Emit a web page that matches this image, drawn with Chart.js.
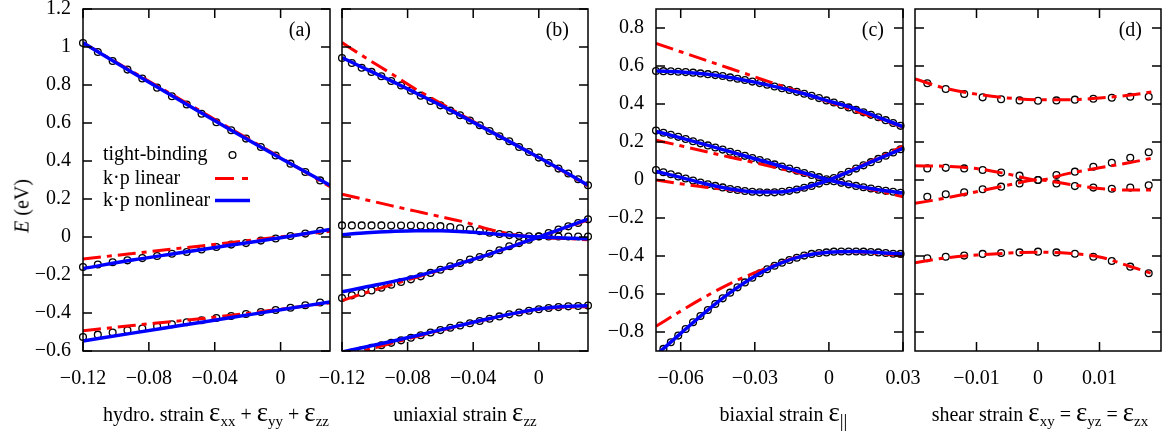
<!DOCTYPE html>
<html>
<head>
<meta charset="utf-8">
<script src="https://cdn.jsdelivr.net/npm/chart.js@4.4.0/dist/chart.umd.min.js"></script>
<style>
    body { margin: 0; background: #fff; }
    #wrap { position: relative; width: 1174px; height: 439px; font-family: "Liberation Serif", "Times New Roman", serif; color: #000; }
    #wrap canvas { position: absolute; left: 0; top: 0; }
    .xtitle { position: absolute; top: 401px; font-size: 20px; line-height: 26px; text-align: center; white-space: nowrap; }
    .eps { font-size: 27px; line-height: 0; }
    .xtitle sub { font-size: 15px; line-height: 0; vertical-align: -5px; }
    .xtitle sub.par { font-size: 19px; vertical-align: -6px; }
    #ytitle { position: absolute; left: 22px; top: 206px; transform: translate(-50%, -50%) rotate(-90deg); font-size: 20px; white-space: nowrap; }
</style>
</head>
<body>
<div id="wrap">
    <canvas id="chartA" width="1174" height="439"></canvas>
    <canvas id="chartB" width="1174" height="439"></canvas>
    <canvas id="chartC" width="1174" height="439"></canvas>
    <canvas id="chartD" width="1174" height="439"></canvas>
    <div id="ytitle"><i>E</i> (eV)</div>
    <div class="xtitle" style="left:86px;width:260px">hydro. strain <span class="eps">ε</span><sub>xx</sub> + <span class="eps">ε</span><sub>yy</sub> + <span class="eps">ε</span><sub>zz</sub></div>
    <div class="xtitle" style="left:342px;width:246px">uniaxial strain <span class="eps">ε</span><sub>zz</sub></div>
    <div class="xtitle" style="left:660px;width:247px">biaxial strain <span class="eps">ε</span><sub class="par">||</sub></div>
    <div class="xtitle" style="left:915px;width:250px">shear strain <span class="eps">ε</span><sub>xy</sub> = <span class="eps">ε</span><sub>yz</sub> = <span class="eps">ε</span><sub>zx</sub></div>
</div>
<script>
// (a) hidrostática
const hydroX = [-0.12, -0.111, -0.102, -0.093, -0.084, -0.075, -0.066, -0.057, -0.048, -0.039, -0.03, -0.021, -0.012, -0.003, 0.006, 0.015, 0.024];
const hydroTB1 = [1.021, 0.974, 0.926, 0.881, 0.834, 0.786, 0.741, 0.697, 0.649, 0.604, 0.562, 0.518, 0.474, 0.429, 0.386, 0.342, 0.298];
const hydroTB2 = [-0.158, -0.145, -0.133, -0.123, -0.111, -0.100, -0.088, -0.079, -0.066, -0.053, -0.040, -0.032, -0.019, -0.008, 0.005, 0.018, 0.033];
const hydroTB3 = [-0.526, -0.514, -0.503, -0.491, -0.482, -0.470, -0.459, -0.449, -0.438, -0.426, -0.416, -0.405, -0.395, -0.384, -0.372, -0.359, -0.345];
const hydroLineX = [-0.12, -0.09, -0.06, -0.03, 0, 0.03];
const hydroLin1 = [1.022, 0.870, 0.720, 0.568, 0.418, 0.265];
const hydroLin2 = [-0.116, -0.087, -0.058, -0.029, 0.001, 0.030];
const hydroLin3 = [-0.493, -0.466, -0.440, -0.412, -0.380, -0.347];
const hydroNon1 = [1.022, 0.866, 0.713, 0.562, 0.415, 0.272];
const hydroNon2 = [-0.166, -0.121, -0.082, -0.042, -0.004, 0.039];
const hydroNon3 = [-0.547, -0.506, -0.465, -0.424, -0.383, -0.342];

// (b) uniaxial
const uniX = [-0.12, -0.114, -0.108, -0.102, -0.096, -0.09, -0.084, -0.078, -0.072, -0.066, -0.06, -0.054, -0.048, -0.042, -0.036, -0.03, -0.024, -0.018, -0.012, -0.006, 0, 0.006, 0.012, 0.018, 0.024, 0.03];
const uniTB1 = [0.942, 0.916, 0.891, 0.869, 0.846, 0.821, 0.798, 0.770, 0.744, 0.716, 0.693, 0.665, 0.641, 0.613, 0.588, 0.558, 0.530, 0.504, 0.474, 0.447, 0.418, 0.389, 0.360, 0.334, 0.304, 0.272];
const uniTB2 = [0.061, 0.061, 0.061, 0.061, 0.061, 0.060, 0.060, 0.060, 0.059, 0.058, 0.057, 0.053, 0.046, 0.039, 0.031, 0.023, 0.016, 0.010, 0.006, 0.004, 0.003, 0.003, 0.003, 0.003, 0.003, 0.003];
const uniTB3 = [-0.321, -0.307, -0.295, -0.281, -0.267, -0.251, -0.237, -0.223, -0.207, -0.189, -0.172, -0.154, -0.137, -0.119, -0.105, -0.088, -0.070, -0.049, -0.032, -0.014, 0.004, 0.021, 0.039, 0.056, 0.074, 0.093];
const uniTB4 = [-0.622, -0.608, -0.596, -0.583, -0.570, -0.557, -0.544, -0.530, -0.517, -0.503, -0.490, -0.478, -0.466, -0.454, -0.442, -0.430, -0.418, -0.407, -0.397, -0.388, -0.380, -0.374, -0.369, -0.365, -0.363, -0.361];
const uniLineX = [-0.12, -0.105, -0.09, -0.075, -0.06, -0.045, -0.03, -0.015, 0, 0.015, 0.03];
const uniLin1 = [1.023, 0.940, 0.860, 0.778, 0.705, 0.632, 0.560, 0.490, 0.418, 0.345, 0.268];
const uniLin2 = [0.225, 0.195, 0.165, 0.136, 0.107, 0.078, 0.040, 0.012, -0.002, -0.008, -0.014];
const uniLin3 = [-0.335, -0.292, -0.252, -0.213, -0.174, -0.132, -0.090, -0.045, 0.000, 0.045, 0.090];
const uniLin4 = [-0.630, -0.595, -0.560, -0.525, -0.492, -0.460, -0.430, -0.403, -0.381, -0.370, -0.367];
const uniNon1 = [0.945, 0.882, 0.822, 0.758, 0.694, 0.627, 0.558, 0.489, 0.418, 0.347, 0.272];
const uniNon2 = [0.012, 0.022, 0.029, 0.033, 0.033, 0.027, 0.018, 0.008, 0.000, -0.005, -0.009];
const uniNon3 = [-0.289, -0.262, -0.236, -0.207, -0.172, -0.131, -0.090, -0.045, 0.000, 0.047, 0.094];
const uniNon4 = [-0.605, -0.578, -0.550, -0.520, -0.489, -0.459, -0.429, -0.402, -0.379, -0.366, -0.362];

// (c) biaxial
const biaxX = [-0.07, -0.067, -0.064, -0.061, -0.058, -0.055, -0.052, -0.049, -0.046, -0.043, -0.04, -0.037, -0.034, -0.031, -0.028, -0.025, -0.022, -0.019, -0.016, -0.013, -0.01, -0.007, -0.004, -0.001, 0.002, 0.005, 0.008, 0.011, 0.014, 0.017, 0.02, 0.023, 0.026, 0.029];
const biaxTB1 = [0.574, 0.573, 0.572, 0.570, 0.568, 0.565, 0.561, 0.557, 0.552, 0.547, 0.540, 0.533, 0.526, 0.518, 0.510, 0.501, 0.492, 0.483, 0.474, 0.464, 0.454, 0.443, 0.431, 0.419, 0.408, 0.395, 0.382, 0.369, 0.356, 0.343, 0.330, 0.315, 0.300, 0.285];
const biaxTB2 = [0.260, 0.249, 0.238, 0.227, 0.216, 0.204, 0.193, 0.182, 0.171, 0.160, 0.149, 0.138, 0.127, 0.116, 0.105, 0.093, 0.082, 0.071, 0.060, 0.049, 0.037, 0.026, 0.015, 0.004, -0.006, -0.015, -0.023, -0.031, -0.038, -0.045, -0.051, -0.057, -0.062, -0.067];
const biaxTB3 = [0.053, 0.041, 0.030, 0.019, 0.008, -0.003, -0.013, -0.022, -0.031, -0.039, -0.047, -0.053, -0.058, -0.062, -0.065, -0.066, -0.065, -0.062, -0.057, -0.050, -0.041, -0.031, -0.019, -0.006, 0.010, 0.026, 0.043, 0.060, 0.077, 0.094, 0.111, 0.128, 0.145, 0.162];
const biaxTB4 = [-0.922, -0.889, -0.854, -0.819, -0.784, -0.749, -0.716, -0.684, -0.653, -0.623, -0.593, -0.565, -0.539, -0.514, -0.491, -0.470, -0.451, -0.435, -0.421, -0.409, -0.398, -0.389, -0.384, -0.381, -0.377, -0.376, -0.376, -0.376, -0.377, -0.379, -0.381, -0.384, -0.388, -0.389];
const biaxLineX = [-0.07, -0.06, -0.05, -0.04, -0.03, -0.02, -0.01, 0, 0.01, 0.02, 0.03];
const biaxLin1 = [0.719, 0.675, 0.631, 0.587, 0.543, 0.499, 0.455, 0.411, 0.367, 0.323, 0.279];
const biaxLin2 = [0.210, 0.180, 0.150, 0.120, 0.091, 0.061, 0.031, 0.001, -0.029, -0.058, -0.088];
const biaxLin3 = [0.000, -0.020, -0.038, -0.052, -0.062, -0.062, -0.042, 0.000, 0.058, 0.116, 0.178];
const biaxLin4 = [-0.770, -0.690, -0.614, -0.545, -0.488, -0.438, -0.396, -0.381, -0.378, -0.386, -0.400];
const biaxNon1 = [0.574, 0.569, 0.558, 0.540, 0.515, 0.486, 0.454, 0.415, 0.378, 0.330, 0.281];
const biaxNon2 = [0.256, 0.222, 0.186, 0.149, 0.112, 0.075, 0.037, 0.000, -0.029, -0.051, -0.069];
const biaxNon3 = [0.045, 0.014, -0.020, -0.047, -0.063, -0.063, -0.041, 0.000, 0.054, 0.111, 0.167];
const biaxNon4 = [-0.922, -0.807, -0.695, -0.593, -0.506, -0.440, -0.398, -0.380, -0.376, -0.381, -0.390];

// (d) cisalhamento
const shearX = [-0.018, -0.015, -0.012, -0.009, -0.006, -0.003, 0, 0.003, 0.006, 0.009, 0.012, 0.015, 0.018];
const shearTB1 = [0.509, 0.479, 0.453, 0.435, 0.425, 0.419, 0.417, 0.419, 0.423, 0.428, 0.433, 0.438, 0.438];
const shearTB2 = [0.061, 0.064, 0.061, 0.053, 0.039, 0.023, 0.000, 0.026, 0.044, 0.070, 0.091, 0.117, 0.146];
const shearTB3 = [-0.088, -0.075, -0.065, -0.049, -0.035, -0.018, 0.000, -0.018, -0.032, -0.040, -0.046, -0.040, -0.028];
const shearTB4 = [-0.412, -0.404, -0.398, -0.389, -0.384, -0.381, -0.377, -0.381, -0.388, -0.404, -0.426, -0.456, -0.491];
const shearLineX = [-0.02, -0.015, -0.01, -0.005, 0, 0.005, 0.01, 0.015, 0.0185];
const shearLin1 = [0.532, 0.482, 0.452, 0.432, 0.422, 0.422, 0.432, 0.447, 0.463];
const shearLin2 = [0.075, 0.072, 0.060, 0.032, 0.000, 0.035, 0.064, 0.092, 0.115];
const shearLin3 = [-0.123, -0.095, -0.062, -0.028, 0.000, -0.022, -0.045, -0.053, -0.053];
const shearLin4 = [-0.435, -0.410, -0.395, -0.385, -0.380, -0.386, -0.405, -0.455, -0.492];

// eixos
const energyTicksAB = [-0.6, -0.4, -0.2, 0, 0.2, 0.4, 0.6, 0.8, 1, 1.2];
const energyLabelsAB = ["−0.6", "−0.4", "−0.2", "0", "0.2", "0.4", "0.6", "0.8", "1", "1.2"];
const energyTicksCD = [-0.8, -0.6, -0.4, -0.2, 0, 0.2, 0.4, 0.6, 0.8];
const energyLabelsCD = ["−0.8", "−0.6", "−0.4", "−0.2", "0", "0.2", "0.4", "0.6", "0.8"];
const strainTicksAB = [-0.12, -0.08, -0.04, 0];
const strainLabelsAB = ["−0.12", "−0.08", "−0.04", "0"];
const strainTicksC = [-0.06, -0.03, 0, 0.03];
const strainLabelsC = ["−0.06", "−0.03", "0", "0.03"];
const strainTicksD = [-0.01, 0, 0.01];
const strainLabelsD = ["−0.01", "0", "0.01"];

const FONT = "'Liberation Serif', 'Times New Roman', serif";
const VERMELHO = "#ff0000";
const AZUL = "#0000ff";
const TRACO_PONTO = [18, 6, 5, 6];

function pontos(xs, ys) {
    return xs.map((x, i) => ({ x: x, y: ys[i] }));
}

function tightBinding(xs, ys) {
    return {
        data: pontos(xs, ys),
        showLine: false,
        pointRadius: 3.4,
        pointBorderWidth: 1.3,
        pointBorderColor: "#000",
        pointBackgroundColor: "rgba(0,0,0,0)",
        order: 3,
        clip: { left: 6, right: 6, top: 0, bottom: 0 }
    };
}

function kpLinear(xs, ys) {
    return {
        data: pontos(xs, ys),
        showLine: true,
        borderColor: VERMELHO,
        borderWidth: 3,
        borderDash: TRACO_PONTO,
        pointRadius: 0,
        cubicInterpolationMode: "monotone",
        order: 2,
        clip: 0
    };
}

function kpNaoLinear(xs, ys) {
    return {
        data: pontos(xs, ys),
        showLine: true,
        borderColor: AZUL,
        borderWidth: 3.5,
        pointRadius: 0,
        cubicInterpolationMode: "monotone",
        order: 1,
        clip: 0
    };
}

// moldura, marcas internas, rótulo do painel e legenda
const molduraPlugin = {
    id: "moldura",
    afterDatasetsDraw(chart, args, opts) {
        const ctx = chart.ctx;
        const a = chart.chartArea;
        const x = chart.scales.x;
        const y = chart.scales.y;
        ctx.save();
        ctx.strokeStyle = "#000";
        ctx.lineWidth = 1.5;
        ctx.strokeRect(a.left, a.top, a.right - a.left, a.bottom - a.top);
        ctx.beginPath();
        opts.xTicks.forEach(v => {
            const px = x.getPixelForValue(v);
            ctx.moveTo(px, a.bottom); ctx.lineTo(px, a.bottom - 9);
            ctx.moveTo(px, a.top); ctx.lineTo(px, a.top + 9);
        });
        opts.yTicks.forEach(v => {
            const py = y.getPixelForValue(v);
            ctx.moveTo(a.left, py); ctx.lineTo(a.left + 9, py);
            ctx.moveTo(a.right, py); ctx.lineTo(a.right - 9, py);
        });
        ctx.stroke();

        ctx.fillStyle = "#000";
        ctx.font = "20px " + FONT;
        ctx.textBaseline = "middle";
        ctx.textAlign = "right";
        ctx.fillText(opts.label, a.right - 19, a.top + 22);

        if (opts.legenda) {
            const lx = a.left + 20;
            const sx1 = a.left + 132, sx2 = a.left + 167;
            const rows = [a.top + 146, a.top + 169.5, a.top + 191.5];
            ctx.textAlign = "left";
            ctx.fillText("tight-binding", lx, rows[0]);
            ctx.fillText("k·p linear", lx, rows[1]);
            ctx.fillText("k·p nonlinear", lx, rows[2]);

            ctx.beginPath();
            ctx.lineWidth = 1.3;
            ctx.arc((sx1 + sx2) / 2, rows[0], 3.4, 0, Math.PI * 2);
            ctx.stroke();

            ctx.beginPath();
            ctx.strokeStyle = VERMELHO;
            ctx.lineWidth = 3;
            ctx.setLineDash([19, 8, 6, 8]);
            ctx.moveTo(sx1, rows[1]); ctx.lineTo(sx2, rows[1]);
            ctx.stroke();

            ctx.beginPath();
            ctx.setLineDash([]);
            ctx.strokeStyle = AZUL;
            ctx.lineWidth = 3.5;
            ctx.moveTo(sx1, rows[2]); ctx.lineTo(sx2, rows[2]);
            ctx.stroke();
        }
        ctx.restore();
    }
};

function criarPainel(canvasId, p) {
    const ctx = document.getElementById(canvasId).getContext("2d");
    return new Chart(ctx, {
        type: "scatter",
        data: { datasets: p.datasets },
        options: {
            responsive: false,
            animation: false,
            events: [],
            layout: {
                autoPadding: false,
                padding: { left: 0, right: 1174 - p.right, top: 9, bottom: 0 }
            },
            plugins: {
                legend: { display: false },
                tooltip: { enabled: false },
                moldura: { xTicks: p.xTicks, yTicks: p.yTicks, label: p.label, legenda: !!p.legenda }
            },
            scales: {
                x: {
                    type: "linear",
                    min: p.xMin,
                    max: p.xMax,
                    grid: { display: false, drawTicks: false },
                    border: { display: false },
                    afterBuildTicks: s => { s.ticks = p.xTicks.map(v => ({ value: v })); },
                    afterFit: s => { s.height = 88; s.paddingLeft = 0; s.paddingRight = 0; },
                    ticks: {
                        autoSkip: false,
                        maxRotation: 0,
                        padding: 16,
                        color: "#000",
                        font: { family: FONT, size: 20 },
                        callback: (v, i) => p.xLabels[i]
                    }
                },
                y: {
                    type: "linear",
                    min: p.yMin,
                    max: p.yMax,
                    grid: { display: false, drawTicks: false },
                    border: { display: false },
                    afterBuildTicks: s => { s.ticks = p.yTicks.map(v => ({ value: v })); },
                    afterFit: s => { s.width = p.left; s.paddingTop = 0; s.paddingBottom = 0; },
                    ticks: {
                        display: !!p.yLabels,
                        padding: 12,
                        color: "#000",
                        font: { family: FONT, size: 20 },
                        callback: (v, i) => (p.yLabels ? p.yLabels[i] : "")
                    }
                }
            }
        },
        plugins: [molduraPlugin]
    });
}

criarPainel("chartA", {
    left: 83, right: 330, xMin: -0.12, xMax: 0.03, yMin: -0.6, yMax: 1.2,
    xTicks: strainTicksAB, xLabels: strainLabelsAB, yTicks: energyTicksAB, yLabels: energyLabelsAB,
    label: "(a)", legenda: true,
    datasets: [
        tightBinding(hydroX, hydroTB1), tightBinding(hydroX, hydroTB2), tightBinding(hydroX, hydroTB3),
        kpLinear(hydroLineX, hydroLin1), kpLinear(hydroLineX, hydroLin2), kpLinear(hydroLineX, hydroLin3),
        kpNaoLinear(hydroLineX, hydroNon1), kpNaoLinear(hydroLineX, hydroNon2), kpNaoLinear(hydroLineX, hydroNon3)
    ]
});

criarPainel("chartB", {
    left: 342, right: 588, xMin: -0.12, xMax: 0.03, yMin: -0.6, yMax: 1.2,
    xTicks: strainTicksAB, xLabels: strainLabelsAB, yTicks: energyTicksAB, yLabels: null,
    label: "(b)",
    datasets: [
        tightBinding(uniX, uniTB1), tightBinding(uniX, uniTB2), tightBinding(uniX, uniTB3), tightBinding(uniX, uniTB4),
        kpLinear(uniLineX, uniLin1), kpLinear(uniLineX, uniLin2), kpLinear(uniLineX, uniLin3), kpLinear(uniLineX, uniLin4),
        kpNaoLinear(uniLineX, uniNon1), kpNaoLinear(uniLineX, uniNon2), kpNaoLinear(uniLineX, uniNon3), kpNaoLinear(uniLineX, uniNon4)
    ]
});

criarPainel("chartC", {
    left: 656, right: 903, xMin: -0.07, xMax: 0.03, yMin: -0.9, yMax: 0.9,
    xTicks: strainTicksC, xLabels: strainLabelsC, yTicks: energyTicksCD, yLabels: energyLabelsCD,
    label: "(c)",
    datasets: [
        tightBinding(biaxX, biaxTB1), tightBinding(biaxX, biaxTB2), tightBinding(biaxX, biaxTB3), tightBinding(biaxX, biaxTB4),
        kpLinear(biaxLineX, biaxLin1), kpLinear(biaxLineX, biaxLin2), kpLinear(biaxLineX, biaxLin3), kpLinear(biaxLineX, biaxLin4),
        kpNaoLinear(biaxLineX, biaxNon1), kpNaoLinear(biaxLineX, biaxNon2), kpNaoLinear(biaxLineX, biaxNon3), kpNaoLinear(biaxLineX, biaxNon4)
    ]
});

criarPainel("chartD", {
    left: 915, right: 1161, xMin: -0.02, xMax: 0.02, yMin: -0.9, yMax: 0.9,
    xTicks: strainTicksD, xLabels: strainLabelsD, yTicks: energyTicksCD, yLabels: null,
    label: "(d)",
    datasets: [
        tightBinding(shearX, shearTB1), tightBinding(shearX, shearTB2), tightBinding(shearX, shearTB3), tightBinding(shearX, shearTB4),
        kpLinear(shearLineX, shearLin1), kpLinear(shearLineX, shearLin2), kpLinear(shearLineX, shearLin3), kpLinear(shearLineX, shearLin4)
    ]
});
</script>
</body>
</html>
